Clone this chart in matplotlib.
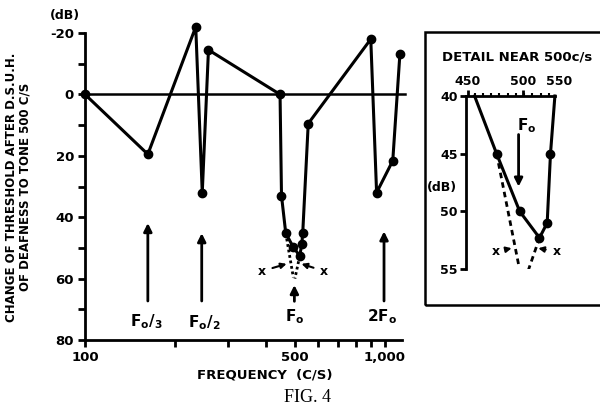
import matplotlib
matplotlib.use("Agg")
import matplotlib.pyplot as plt
from matplotlib.patches import Rectangle
import numpy as np

plt.rcParams['font.family'] = ['DejaVu Sans']
plt.rcParams['mathtext.fontset'] = 'dejavusans'

# ---- data (main plot) ----
freq = [100, 162, 234, 246, 258, 447, 452, 467, 495, 520, 528, 532, 555, 897, 938, 1062, 1122]
change_db = [0, 19.5, -22, 32, -14.5, 0, 33, 45.2, 49.8, 52.6, 48.8, 45.2, 9.5, -18, 32, 21.6, -13.3]
dash_left_f = [467, 495]
dash_left_db = [45.2, 59.6]
dash_right_f = [520, 501]
dash_right_db = [52.6, 60]
x_ticks = [100, 200, 300, 400, 500, 600, 700, 800, 900, 1000]
x_tick_labels = ['100', '', '', '', '500', '', '', '', '', '1,000']
y_ticks = [-20, 0, 20, 40, 60, 80]
arrow_f = [162, 245, 499, 993]
arrow_head_db = [41, 44.3, 61.2, 43.7]
arrow_tail_db = [68.2, 68.2, 68.3, 68.2]
arrow_labels = [r'$\mathbf{F_o/_3}$', r'$\mathbf{F_o/_2}$', r'$\mathbf{F_o}$', r'$\mathbf{2F_o}$']
arrow_label_f = [160, 250, 499, 976]
arrow_label_db = [74, 74.5, 72.5, 72.5]

# ---- data (inset) ----
det_f = [456, 476, 497, 515, 522, 525, 529]
det_db = [40, 45, 50, 52.3, 51, 45, 40]
det_dash1_f = [476, 496.6]
det_dash1_db = [45, 54.9]
det_dash2_f = [515, 502.7]
det_dash2_db = [52.3, 55.7]

W, H = 600, 408
fig = plt.figure(figsize=(6, 4.08), dpi=100)

def fr(x0, y0, x1, y1):
    return [x0 / W, 1 - y1 / H, (x1 - x0) / W, (y1 - y0) / H]

ax = fig.add_axes(fr(85, 33, 402, 340))
ax.set_xscale('log')
ax.set_xlim(100, 1140)
ax.set_ylim(80, -20)
for s in ['top', 'right']:
    ax.spines[s].set_visible(False)
for s in ['left', 'bottom']:
    ax.spines[s].set_linewidth(2)
ax.xaxis.set_minor_locator(matplotlib.ticker.NullLocator())
ax.set_xticks(x_ticks)
ax.set_xticklabels(x_tick_labels, fontsize=9.5, fontweight='bold')
ax.set_yticks(y_ticks)
ax.set_yticklabels([str(v) if v >= 0 else '-' + str(-v) for v in y_ticks], fontsize=9.5, fontweight='bold')
ax.set_yticks([-10, 10, 30, 50, 70], minor=True)
ax.tick_params(axis='both', which='both', direction='out', length=5, width=2, pad=3)

ax.plot([100, 1170], [0, 0], color='black', lw=1.8, clip_on=False)
ax.plot(freq, change_db, color='black', lw=2.2, marker='o', ms=6, clip_on=False)
ax.plot(dash_left_f, dash_left_db, color='black', lw=2, ls=(0, (1, 1)))
ax.plot(dash_right_f, dash_right_db, color='black', lw=2, ls=(0, (1, 1)))

for f, h, t, lab, lf, ld in zip(arrow_f, arrow_head_db, arrow_tail_db, arrow_labels, arrow_label_f, arrow_label_db):
    ax.annotate('', xy=(f, h), xytext=(f, t),
                arrowprops=dict(arrowstyle='-|>', lw=2, color='black', mutation_scale=12))
    ax.text(lf, ld, lab, ha='center', va='center', fontsize=11)

ax.annotate('x', xy=(470, 55.2), xytext=(388, 57.6), ha='center', va='center',
            fontsize=9, fontweight='bold',
            arrowprops=dict(arrowstyle='-|>', lw=1.5, color='black', mutation_scale=8, shrinkA=3, shrinkB=0))
ax.annotate('x', xy=(527, 55.2), xytext=(628, 57.6), ha='center', va='center',
            fontsize=9, fontweight='bold',
            arrowprops=dict(arrowstyle='-|>', lw=1.5, color='black', mutation_scale=8, shrinkA=3, shrinkB=0))

fig.text(65 / W, 1 - 15 / H, '(dB)', ha='center', va='center', fontsize=9, fontweight='bold')
fig.text(12 / W, 1 - 187 / H, 'CHANGE OF THRESHOLD AFTER D.S.U.H.', rotation=90,
         ha='center', va='center', fontsize=8.5, fontweight='bold')
fig.text(25 / W, 1 - 187 / H, 'OF DEAFNESS TO TONE 500 C/S', rotation=90,
         ha='center', va='center', fontsize=8.5, fontweight='bold')
fig.text(265 / W, 1 - 375 / H, 'FREQUENCY  (C/S)', ha='center', va='center', fontsize=9.5, fontweight='bold')
fig.text(307 / W, 1 - 397 / H, 'FIG. 4', ha='center', va='center', fontsize=13,
         family='Liberation Serif')

# ---- inset ----
fig.patches.append(Rectangle((425 / W, 1 - 305 / H), 200 / W, 273 / H, transform=fig.transFigure,
                             fill=False, lw=1.8, edgecolor='black'))
fig.text(442 / W, 1 - 57 / H, 'DETAIL NEAR 500c/s', ha='left', va='center', fontsize=9.5, fontweight='bold')

ax2 = fig.add_axes(fr(466, 96, 555, 269))
ax2.set_xlim(448.2, 529.1)
ax2.set_ylim(55, 40)
for s in ['bottom', 'right']:
    ax2.spines[s].set_visible(False)
for s in ['left', 'top']:
    ax2.spines[s].set_linewidth(2)
ax2.xaxis.tick_top()
ax2.set_xticks([450, 500])
ax2.set_xticklabels(['450', '500'], fontsize=9, fontweight='bold')
ax2.set_xticks(np.arange(456, 529, 7.5), minor=True)
ax2.set_yticks([40, 45, 50, 55])
ax2.set_yticklabels(['40', '45', '50', '55'], fontsize=9, fontweight='bold')
ax2.tick_params(axis='both', which='major', direction='out', length=4, width=2, pad=2)
ax2.tick_params(axis='x', which='minor', direction='out', length=2.5, width=1.5)
ax2.annotate('550', xy=(532.7, 1.0), xycoords=('data', 'axes fraction'), xytext=(0, 6),
             textcoords='offset points', ha='center', va='bottom', fontsize=9, fontweight='bold',
             annotation_clip=False)
ax2.text(-0.27, 0.47, '(dB)', transform=ax2.transAxes, ha='center', va='center', fontsize=9, fontweight='bold')

ax2.plot(det_f, det_db, color='black', lw=2.2, marker='o', ms=6, markevery=[1, 2, 3, 4, 5], clip_on=False)
ax2.plot(det_dash1_f, det_dash1_db, color='black', lw=2, ls=(0, (2, 1.5)))
ax2.plot(det_dash2_f, det_dash2_db, color='black', lw=2, ls=(0, (2, 1.5)))
ax2.annotate('', xy=(496, 48.1), xytext=(496, 43.1),
             arrowprops=dict(arrowstyle='-|>', lw=2, color='black', mutation_scale=12))
ax2.text(503, 42.6, r'$\mathbf{F_o}$', ha='center', va='center', fontsize=11)
ax2.annotate('x', xy=(489.7, 53.2), xytext=(475.5, 53.5), ha='center', va='center',
             fontsize=9, fontweight='bold',
             arrowprops=dict(arrowstyle='-|>', lw=1.5, color='black', mutation_scale=8, shrinkA=3, shrinkB=0))
ax2.annotate('x', xy=(513.9, 53.2), xytext=(530.6, 53.5), ha='center', va='center',
             fontsize=9, fontweight='bold', annotation_clip=False,
             arrowprops=dict(arrowstyle='-|>', lw=1.5, color='black', mutation_scale=8, shrinkA=3, shrinkB=0))

fig.savefig('out.png', dpi=100)
